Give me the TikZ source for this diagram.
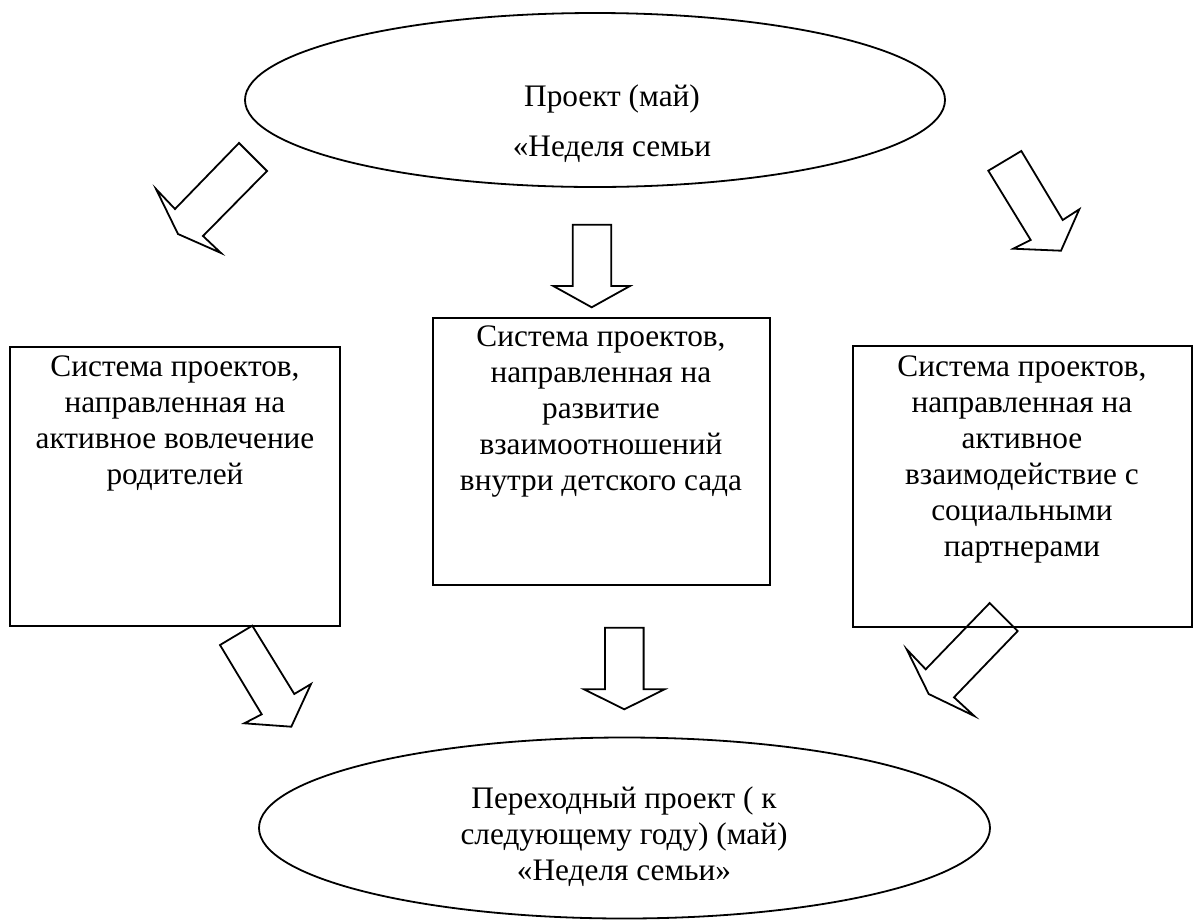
\documentclass[tikz,border=0pt]{standalone}
\usepackage{fontspec}
\setmainfont{Liberation Serif}
\usetikzlibrary{shapes.geometric}
\begin{document}
\begin{tikzpicture}[x=1pt,y=-1pt,
  line width=1.8pt,
  oval/.style={draw,ellipse,inner sep=0pt},
  box/.style={draw,rectangle,inner sep=0pt},
  txt/.style={align=center,inner sep=0pt,font=\fontsize{31.3}{36}\selectfont},
  blockarrow/.style={draw,line join=miter}]
\useasboundingbox (0,0) rectangle (1203,922);
% top ellipse
\node[oval,minimum width=700pt,minimum height=174pt] (top) at (595,100) {};
\node[txt,font=\fontsize{31.3}{50}\selectfont] (toptxt) at (612,124) {Проект (май)\\«Неделя семьи};
% boxes
\node[box,minimum width=330pt,minimum height=279pt] (left) at (175,486.5) {};
\node[box,minimum width=337pt,minimum height=267pt] (mid) at (601.5,451.5) {};
\node[box,minimum width=339pt,minimum height=281pt] (right) at (1022.5,486.5) {};
\node[txt] (lefttxt) at (175,423) {Система проектов,\\направленная на\\активное вовлечение\\родителей};
\node[txt] (midtxt) at (601,412) {Система проектов,\\направленная на\\развитие\\взаимоотношений\\внутри детского сада};
\node[txt] (righttxt) at (1022,459) {Система проектов,\\направленная на\\активное\\взаимодействие с\\социальными\\партнерами};
% bottom ellipse
\node[oval,minimum width=731pt,minimum height=181pt] (bot) at (624.5,828) {};
\node[txt] (bottxt) at (624,837) {Переходный проект ( к\\следующему году) (май)\\«Неделя семьи»};
% block arrows
\draw[blockarrow] (239,143) -- (267,171) -- (203,236) -- (221,253) -- (178,234) -- (156,189) -- (175,209) -- cycle;
\draw[blockarrow] (572.7,224.7) -- (611.3,224.7) -- (611.3,286) -- (630,286) -- (591.7,307.3) -- (553.3,286) -- (572.7,286) -- cycle;
\draw[blockarrow] (988.3,170.7) -- (1021.3,151) -- (1062.7,220) -- (1079.3,209.3) -- (1061,250.7) -- (1013.3,248.7) -- (1030.7,240) -- cycle;
\draw[blockarrow] (220,645) -- (252.3,625.7) -- (294.3,694) -- (311,684) -- (291.3,726.7) -- (244.3,723.3) -- (261.7,714.3) -- cycle;
\draw[blockarrow] (605,627.7) -- (643.6,627.7) -- (643.6,689.3) -- (664.6,689.3) -- (624.3,709.3) -- (584,689.3) -- (605,689.3) -- cycle;
\draw[blockarrow] (1017.7,631) -- (989.7,603) -- (925.7,669.3) -- (906.7,649.3) -- (928.7,694) -- (974.3,716) -- (954,697.3) -- cycle;
\end{tikzpicture}
\end{document}
